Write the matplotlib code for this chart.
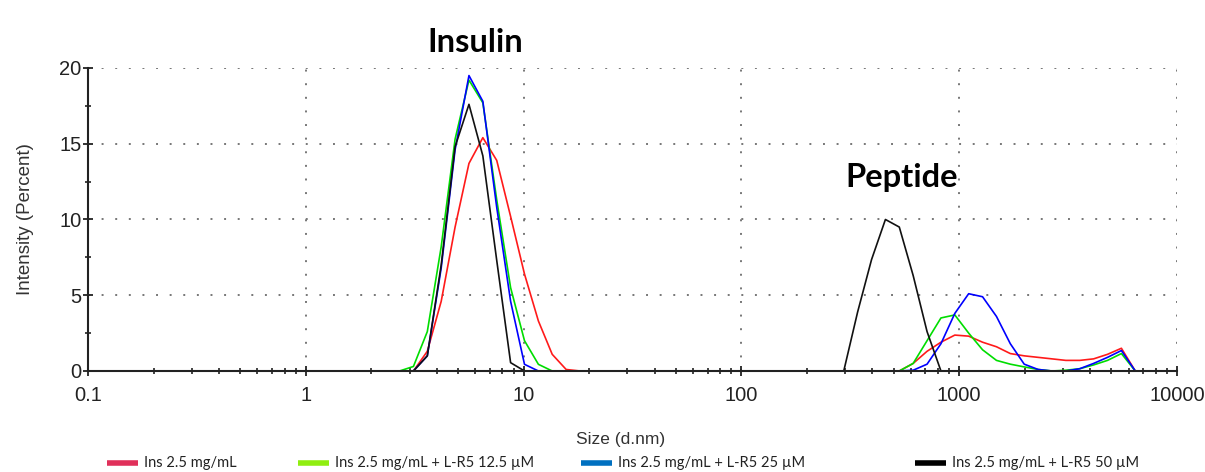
import numpy as np
import matplotlib
matplotlib.use("Agg")
import matplotlib.pyplot as plt
from matplotlib.lines import Line2D
from matplotlib.ticker import FixedLocator, LogLocator, NullFormatter

# size classes (d.nm) of the instrument, 2.3 nm .. 7456 nm
sizes = [2.328, 2.696, 3.122, 3.615, 4.187, 4.849, 5.615, 6.503, 7.531, 8.721,
         10.1, 11.7, 13.54, 15.69, 18.17, 21.04, 24.36, 28.21, 32.67, 37.84,
         43.82, 50.75, 58.77, 68.06, 78.82, 91.28, 105.7, 122.4, 141.8, 164.2,
         190.1, 220.2, 255.0, 295.3, 342.0, 396.1, 458.7, 531.2, 615.1, 712.4,
         825.0, 955.4, 1106, 1281, 1484, 1718, 1990, 2305, 2669, 3091,
         3580, 4145, 4801, 5560, 6439, 7456]

ins = [0, 0, 0, 1.3, 4.6, 9.5, 13.7, 15.4, 13.9, 10.2,
       6.4, 3.3, 1.1, 0.1, 0, 0, 0, 0, 0, 0,
       0, 0, 0, 0, 0, 0, 0, 0, 0, 0,
       0, 0, 0, 0, 0, 0, 0, 0, 0.5, 1.3,
       1.9, 2.37, 2.3, 1.9, 1.6, 1.15, 1.0, 0.9, 0.8, 0.7,
       0.7, 0.8, 1.1, 1.5, 0, 0]

ins_lr5_12 = [0, 0, 0.3, 2.6, 8.2, 15.3, 19.2, 17.7, 11.3, 5.5,
              2.0, 0.44, 0, 0, 0, 0, 0, 0, 0, 0,
              0, 0, 0, 0, 0, 0, 0, 0, 0, 0,
              0, 0, 0, 0, 0, 0, 0, 0, 0.5, 2.0,
              3.5, 3.7, 2.5, 1.4, 0.7, 0.45, 0.27, 0.1, 0, 0.05,
              0.15, 0.4, 0.7, 1.15, 0, 0]

ins_lr5_25 = [0, 0, 0, 1.0, 6.8, 14.6, 19.5, 17.8, 10.8, 4.6,
              0.44, 0, 0, 0, 0, 0, 0, 0, 0, 0,
              0, 0, 0, 0, 0, 0, 0, 0, 0, 0,
              0, 0, 0, 0, 0, 0, 0, 0, 0.05, 0.45,
              1.8, 3.8, 5.1, 4.9, 3.6, 1.8, 0.45, 0.1, 0, 0,
              0.15, 0.5, 0.9, 1.35, 0, 0]

ins_lr5_50 = [0, 0, 0, 1.0, 7.0, 14.8, 17.6, 14.2, 7.3, 0.55,
              0, 0, 0, 0, 0, 0, 0, 0, 0, 0,
              0, 0, 0, 0, 0, 0, 0, 0, 0, 0,
              0, 0, 0, 0, 3.9, 7.35, 10.0, 9.5, 6.3, 2.6,
              0, 0, 0, 0, 0, 0, 0, 0, 0, 0,
              0, 0, 0, 0, 0, 0]

labels = ["Ins 2.5 mg/mL", "Ins 2.5 mg/mL + L-R5 12.5 µM",
          "Ins 2.5 mg/mL + L-R5 25 µM", "Ins 2.5 mg/mL + L-R5 50 µM"]
line_colors = ["#ff1a1a", "#00dd00", "#0000ff", "#111111"]
legend_colors = ["#e0305a", "#90ee10", "#0070c0", "#000000"]

plt.rcParams["font.family"] = ["Liberation Sans", "DejaVu Sans"]

fig = plt.figure(figsize=(12.05, 4.72), dpi=100)
ax = fig.add_axes([0.0730, 0.214, 0.9037, 0.642])

for ys, c in zip([ins, ins_lr5_12, ins_lr5_25, ins_lr5_50], line_colors):
    ax.plot(sizes, ys, color=c, lw=1.2, zorder=2)

ax.set_xscale("log")
ax.set_xlim(0.1, 10000)
ax.set_ylim(0, 20)
ax.set_xticks([0.1, 1, 10, 100, 1000, 10000])
ax.set_xticklabels(["0.1", "1", "10", "100", "1000", "10000"])
ax.xaxis.set_minor_locator(LogLocator(base=10, subs=np.arange(2, 10)))
ax.xaxis.set_minor_formatter(NullFormatter())
ax.set_yticks([0, 5, 10, 15, 20])
ax.yaxis.set_minor_locator(FixedLocator([2.5, 7.5, 12.5, 17.5]))

ax.tick_params(which="major", direction="inout", length=7, width=1.3,
               labelsize=14.5, labelcolor="#222222", color="#222222")
ax.tick_params(which="minor", direction="inout", length=4, width=1.2,
               color="#222222")
ax.tick_params(axis="x", which="major", pad=7)
ax.tick_params(axis="y", which="major", pad=1)

ax.grid(True, which="major", linestyle=(0, (1, 6)), color="#777777", lw=1.4)
for s in ["top", "right"]:
    ax.spines[s].set_visible(False)
for s in ["left", "bottom"]:
    ax.spines[s].set_linewidth(1.5)
    ax.spines[s].set_color("#222222")
    ax.spines[s].set_zorder(3)

ax.set_ylabel("Intensity (Percent)", fontsize=13.5, color="#333333")
ax.set_xlabel("Size (d.nm)", fontsize=12.5, color="#333333")
ax.yaxis.set_label_coords(-0.05, 0.5)
ax.xaxis.set_label_coords(0.489, -0.20)

fig.text(0.394, 0.909, "Insulin", fontsize=23.5, fontweight="bold",
         family=["Lato", "DejaVu Sans"], ha="center", va="center")
fig.text(0.7485, 0.623, "Peptide", fontsize=23.5, fontweight="bold",
         family=["Lato", "DejaVu Sans"], ha="center", va="center")

# legend row along the bottom
leg_x = [107, 298, 581, 915]
ly = 1 - 463 / 472
for x0, lab, c in zip(leg_x, labels, legend_colors):
    fig.add_artist(Line2D([x0 / 1205, (x0 + 31) / 1205], [ly, ly],
                          color=c, lw=4, solid_capstyle="butt"))
    fig.text((x0 + 37) / 1205, ly, lab, fontsize=10.5,
             family=["Lato", "DejaVu Sans"], ha="left", va="center",
             color="#222222")

fig.savefig("out.png", dpi=100)
